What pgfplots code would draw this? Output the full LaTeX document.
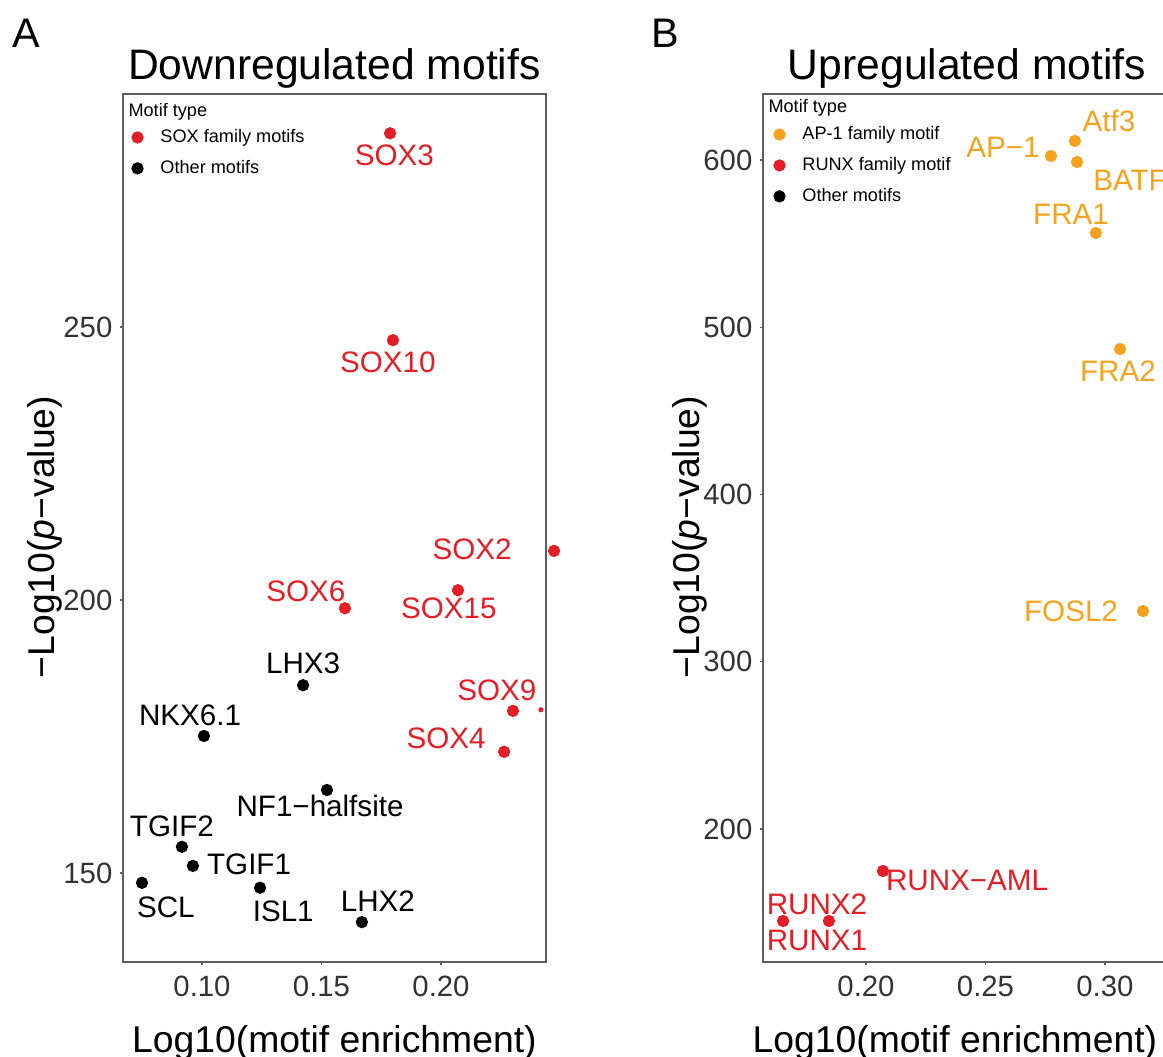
\documentclass[border=0pt]{standalone}
\usepackage{fontspec}
\setmainfont{Liberation Sans}
\usepackage{pgfplots}
\pgfplotsset{compat=1.18}
\definecolor{myred}{HTML}{E41E26}
\definecolor{myorange}{HTML}{F5A31F}
\definecolor{axgray}{HTML}{5E5E5E}
\definecolor{tickgray}{HTML}{333333}
\newcommand{\fsT}{\fontsize{16}{19}\selectfont}
\newcommand{\fsP}{\fontsize{15.5}{18}\selectfont}
\newcommand{\fsL}{\fontsize{14}{17}\selectfont}
\newcommand{\fsK}{\fontsize{11}{13}\selectfont}
\newcommand{\fsD}{\fontsize{11.1}{13}\selectfont}
\newcommand{\fsG}{\fontsize{6.8}{8}\selectfont}
\pgfplotsset{
  panel/.style={
    anchor=south west, scale only axis, width=158.625pt, height=325.5pt,
    clip=false,
    axis line style={draw=axgray, line width=0.55pt},
    tick align=outside, major tick length=1.2pt,
    tick style={axgray, line width=0.5pt},
    xtick pos=left, ytick pos=left,
    ticklabel style={font=\fsK, text=tickgray, inner sep=0pt},
    xticklabel shift=3.7pt, yticklabel shift=2.6pt,
    legend cell align=left,
    legend style={draw=none, fill=none, font=\fsG, inner sep=0pt,
      at={(rel axis cs:0,1)}, anchor=north west,
      nodes={inner sep=0pt, text height=5pt, text depth=1.5pt},
      row sep=5.1pt,
      /tikz/every odd column/.append style={column sep=6.5pt}},
  },
  dots/.style={only marks, mark=*, mark size=2.1pt},
}
\begin{document}
\begin{tikzpicture}
\path[use as bounding box] (0pt,0pt) rectangle (436.125pt,396.375pt);

% ---------------- Panel A ----------------
\begin{axis}[panel, at={(46.125pt,35.625pt)},
  xmin=0.06695, xmax=0.24393, ymin=133.7, ymax=292.7,
  xtick={0.10,0.15,0.20}, xticklabels={0.10,0.15,0.20},
  ytick={150,200,250}, yticklabels={150,200,250},
  legend style={xshift=3.15pt, yshift=-12.85pt}]
\addplot[dots, myred, mark options={fill=myred, draw=myred}] coordinates {
 (0.1787,285.5) (0.1799,247.6) (0.2473,209.0) (0.2071,201.8) (0.1598,198.5)
 (0.2301,179.7) (0.2264,172.2)};
\addlegendentry{SOX family motifs}
\addplot[dots, black, mark options={fill=black, draw=black}] coordinates {
 (0.1423,184.4) (0.1008,175.1) (0.1523,165.2) (0.0916,154.8) (0.0962,151.3)
 (0.0749,148.2) (0.1243,147.3) (0.1669,141.0)};
\addlegendentry{Other motifs}
\addplot[only marks, mark=*, mark size=0.75pt, myred, mark options={fill=myred, draw=myred}, forget plot] coordinates {(0.2418,179.9)};
\begin{scope}[font=\fsD, text=myred]
\node at (axis cs:0.1805,281.5) {SOX3};
\node at (axis cs:0.1778,243.6) {SOX10};
\node at (axis cs:0.2130,209.3) {SOX2};
\node at (axis cs:0.2033,198.4) {SOX15};
\node at (axis cs:0.1435,201.6) {SOX6};
\node at (axis cs:0.2234,183.5) {SOX9};
\node at (axis cs:0.2021,174.7) {SOX4};
\end{scope}
\begin{scope}[font=\fsD, text=black]
\node at (axis cs:0.1423,188.5) {LHX3};
\node at (axis cs:0.0950,178.8) {NKX6.1};
\node at (axis cs:0.1494,162.3) {NF1−halfsite};
\node at (axis cs:0.0874,158.6) {TGIF2};
\node at (axis cs:0.1197,151.6) {TGIF1};
\node at (axis cs:0.0849,143.8) {SCL};
\node at (axis cs:0.1340,143.0) {ISL1};
\node at (axis cs:0.1736,144.9) {LHX2};
\end{scope}
\end{axis}

% ---------------- Panel B ----------------
\begin{axis}[panel, at={(286.125pt,35.625pt)},
  xmin=0.1569, xmax=0.3339, ymin=120.5, ymax=639.5,
  xtick={0.20,0.25,0.30}, xticklabels={0.20,0.25,0.30},
  ytick={200,300,400,500,600}, yticklabels={200,300,400,500,600},
  legend style={xshift=3.9pt, yshift=-11.75pt}]
\addplot[dots, myorange, mark options={fill=myorange, draw=myorange}] coordinates {
 (0.2874,611.4) (0.2774,602.4) (0.2883,598.8) (0.2962,556.4) (0.3063,487.0)
 (0.3159,330.3)};
\addlegendentry{AP-1 family motif}
\addplot[dots, myred, mark options={fill=myred, draw=myred}] coordinates {
 (0.2071,174.9) (0.1653,145.0) (0.1845,145.0)};
\addlegendentry{RUNX family motif}
\addlegendimage{dots, black, mark options={fill=black, draw=black}}
\addlegendentry{Other motifs}
\begin{scope}[font=\fsD, text=myorange]
\node at (axis cs:0.3017,623.3) {Atf3};
\node at (axis cs:0.2573,607.8) {AP−1};
\node at (axis cs:0.3105,588.0) {BATF};
\node at (axis cs:0.2858,567.7) {FRA1};
\node at (axis cs:0.3054,473.8) {FRA2};
\node at (axis cs:0.2858,330.3) {FOSL2};
\end{scope}
\begin{scope}[font=\fsD, text=myred]
\node at (axis cs:0.2423,169.5) {RUNX−AML};
\node at (axis cs:0.1795,155.2) {RUNX2};
\node at (axis cs:0.1795,133.6) {RUNX1};
\end{scope}
\end{axis}

% ---------------- texts ----------------
\node[font=\fsP, anchor=base west, inner sep=0pt] at (4.5pt,378.4pt) {A};
\node[font=\fsP, anchor=base west, inner sep=0pt] at (244.1pt,378.4pt) {B};
\node[font=\fsT, anchor=base, inner sep=0pt] at (125.4pt,366.4pt) {Downregulated motifs};
\node[font=\fsT, anchor=base, inner sep=0pt] at (362.6pt,366.4pt) {Upregulated motifs};
\node[font=\fsL, anchor=base, inner sep=0pt] at (125.4pt,1.5pt) {Log10(motif enrichment)};
\node[font=\fsL, anchor=base, inner sep=0pt] at (358.1pt,1.5pt) {Log10(motif enrichment)};
\node[font=\fsL, rotate=90, inner sep=0pt] at (16.875pt,195pt) {−Log10(\textit{p}−value)};
\node[font=\fsL, rotate=90, inner sep=0pt] at (258.75pt,195pt) {−Log10(\textit{p}−value)};
\node[font=\fsG, anchor=base west, inner sep=0pt] at (48pt,352.5pt) {Motif type};
\node[font=\fsG, anchor=base west, inner sep=0pt] at (288pt,354pt) {Motif type};
\end{tikzpicture}
\end{document}
